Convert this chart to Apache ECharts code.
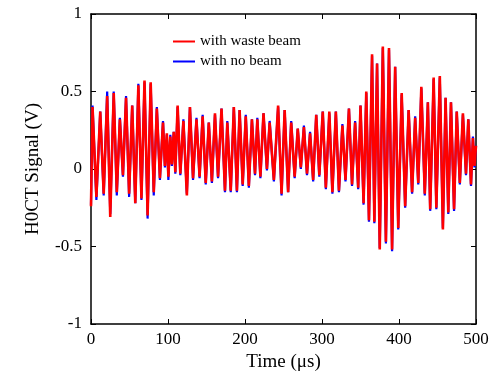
<!DOCTYPE html>
<html>
<head>
<meta charset="utf-8">
<script src="https://cdn.jsdelivr.net/npm/echarts@6/dist/echarts.min.js"></script>
<style>
  html, body { margin: 0; padding: 0; background: #fff; }
  #chart { width: 499px; height: 380px; }
</style>
</head>
<body>
<div id="chart"></div>
<script>
// Time in microseconds (shared by both traces)
const timeUs = [
  0, 2, 7, 12, 16.5, 21, 25, 29.5, 33.5, 37.5,
  41.5, 45.5, 49.5, 53.5, 57.5, 61.5, 65.5, 69.5, 73.5, 77.5,
  81.5, 85.5, 89.5, 93.5, 96, 98.5, 100.5, 103, 105, 107.5,
  109.5, 112.5, 116, 120, 124.5, 128.5, 132.5, 137, 141, 145,
  149, 153, 157, 161, 165, 169.5, 174, 177, 181.5, 185.5,
  189.5, 193, 197, 201, 205, 209, 213, 216, 220, 224,
  228.5, 232, 237.5, 243, 247.5, 251.5, 256, 260, 264.5, 268.5,
  272.5, 276.5, 280.5, 284.5, 288.5, 292.5, 296.5, 301, 305, 309.5,
  313.5, 318, 322, 326.5, 330.5, 335, 339, 343, 347, 350,
  354, 357.5, 361, 365, 368, 371.5, 375, 379, 383, 387,
  391, 395, 399, 403.5, 408, 412.5, 417, 421, 425, 429,
  433.5, 437.5, 440.5, 445, 448.5, 453, 457, 460.5, 464, 467.5,
  471.5, 475, 479, 483, 487, 490, 493.5, 496, 498, 500
];

// H0CT signal (V) with waste beam
const wasteBeam = [
  -0.24, 0.40, -0.18, 0.37, -0.16, 0.47, -0.31, 0.49, -0.15, 0.32,
  -0.04, 0.46, -0.16, 0.41, -0.22, 0.54, -0.19, 0.57, -0.30, 0.56,
  -0.15, 0.39, -0.06, 0.30, 0.02, 0.23, -0.05, 0.21, 0.03, 0.24,
  -0.02, 0.41, -0.03, 0.31, -0.17, 0.40, -0.06, 0.32, -0.05, 0.34,
  -0.09, 0.30, -0.08, 0.36, -0.05, 0.39, -0.14, 0.30, -0.14, 0.40,
  -0.14, 0.38, -0.10, 0.34, -0.11, 0.32, -0.03, 0.32, -0.05, 0.36,
  0.00, 0.30, -0.07, 0.41, -0.16, 0.38, -0.15, 0.30, -0.05, 0.26,
  0.01, 0.27, -0.03, 0.23, -0.07, 0.35, -0.04, 0.37, -0.12, 0.37,
  -0.15, 0.37, -0.14, 0.28, -0.07, 0.39, -0.10, 0.30, -0.12, 0.41,
  -0.22, 0.50, -0.33, 0.74, -0.34, 0.68, -0.52, 0.79, -0.47, 0.78,
  -0.52, 0.66, -0.38, 0.49, -0.24, 0.38, -0.15, 0.33, -0.09, 0.53,
  -0.16, 0.43, -0.26, 0.59, -0.25, 0.60, -0.39, 0.46, -0.28, 0.43,
  -0.26, 0.37, -0.09, 0.36, -0.03, 0.32, -0.10, 0.20, 0.02, 0.15
];

// H0CT signal (V) with no beam
const noBeam = [
  -0.23, 0.41, -0.20, 0.37, -0.17, 0.50, -0.29, 0.50, -0.17, 0.33,
  -0.05, 0.47, -0.18, 0.41, -0.22, 0.55, -0.20, 0.56, -0.32, 0.55,
  -0.17, 0.40, -0.07, 0.31, 0.01, 0.22, -0.07, 0.22, 0.02, 0.24,
  -0.03, 0.40, -0.04, 0.32, -0.16, 0.40, -0.07, 0.33, -0.06, 0.35,
  -0.10, 0.30, -0.09, 0.35, -0.06, 0.39, -0.15, 0.31, -0.15, 0.40,
  -0.15, 0.38, -0.11, 0.35, -0.12, 0.32, -0.04, 0.33, -0.06, 0.36,
  -0.01, 0.31, -0.08, 0.40, -0.17, 0.38, -0.15, 0.31, -0.06, 0.26,
  0.00, 0.28, -0.04, 0.24, -0.08, 0.35, -0.05, 0.37, -0.13, 0.36,
  -0.16, 0.37, -0.15, 0.29, -0.08, 0.39, -0.11, 0.31, -0.13, 0.41,
  -0.23, 0.49, -0.34, 0.73, -0.35, 0.68, -0.51, 0.78, -0.48, 0.77,
  -0.53, 0.66, -0.39, 0.48, -0.25, 0.38, -0.16, 0.34, -0.10, 0.52,
  -0.17, 0.43, -0.27, 0.58, -0.26, 0.59, -0.38, 0.46, -0.29, 0.43,
  -0.27, 0.37, -0.10, 0.35, -0.04, 0.32, -0.11, 0.21, 0.01, 0.15
];

const seriesNames = ['with waste beam', 'with no beam'];
const xAxisTitle = 'Time (\u03bcs)';
const yAxisTitle = 'H0CT Signal (V)';

const FONT = '"Liberation Serif", "DejaVu Serif", serif';
const axisLineStyle = { color: '#000', width: 1.5 };

const chart = echarts.init(document.getElementById('chart'), null, { renderer: 'canvas' });

const mkX = (pos, showLabel) => ({
  type: 'value', position: pos, min: 0, max: 500, interval: 100,
  axisLine: { show: true, onZero: false, lineStyle: axisLineStyle },
  axisTick: { show: true, inside: true, length: 5, lineStyle: { color: '#000', width: 1 } },
  axisLabel: { show: showLabel, color: '#000', fontFamily: FONT, fontSize: 17, margin: 7 },
  splitLine: { show: false },
  name: showLabel ? xAxisTitle : '',
  nameLocation: 'middle', nameGap: 29,
  nameTextStyle: { color: '#000', fontFamily: FONT, fontSize: 19 }
});
const mkY = (pos, showLabel) => ({
  type: 'value', position: pos, min: -1, max: 1, interval: 0.5,
  axisLine: { show: true, onZero: false, lineStyle: axisLineStyle },
  axisTick: { show: true, inside: true, length: 5, lineStyle: { color: '#000', width: 1 } },
  axisLabel: { show: showLabel, color: '#000', fontFamily: FONT, fontSize: 17, margin: 9 },
  splitLine: { show: false },
  name: showLabel ? yAxisTitle : '',
  nameLocation: 'middle', nameGap: 48, nameRotate: 90,
  nameTextStyle: { color: '#000', fontFamily: FONT, fontSize: 19 }
});

chart.setOption({
  animation: false,
  backgroundColor: '#fff',
  grid: { left: 91, right: 23, top: 14, bottom: 56, containLabel: false },
  legend: {
    orient: 'vertical', left: 168, top: 29, itemWidth: 22, itemHeight: 2, itemGap: 5,
    icon: 'rect',
    data: seriesNames,
    textStyle: { color: '#000', fontFamily: FONT, fontSize: 15 }
  },
  xAxis: [mkX('bottom', true), mkX('top', false)],
  yAxis: [mkY('left', true), mkY('right', false)],
  series: [
    {
      name: seriesNames[1], type: 'line', symbol: 'none', showSymbol: false,
      xAxisIndex: 0, yAxisIndex: 0, z: 2,
      lineStyle: { color: '#0000ff', width: 2.2 }, itemStyle: { color: '#0000ff' },
      data: timeUs.map((t, i) => [t, noBeam[i]])
    },
    {
      name: seriesNames[0], type: 'line', symbol: 'none', showSymbol: false,
      xAxisIndex: 0, yAxisIndex: 0, z: 3,
      lineStyle: { color: '#ff0000', width: 2.6 }, itemStyle: { color: '#ff0000' },
      data: timeUs.map((t, i) => [t, wasteBeam[i]])
    }
  ]
});
</script>
</body>
</html>
